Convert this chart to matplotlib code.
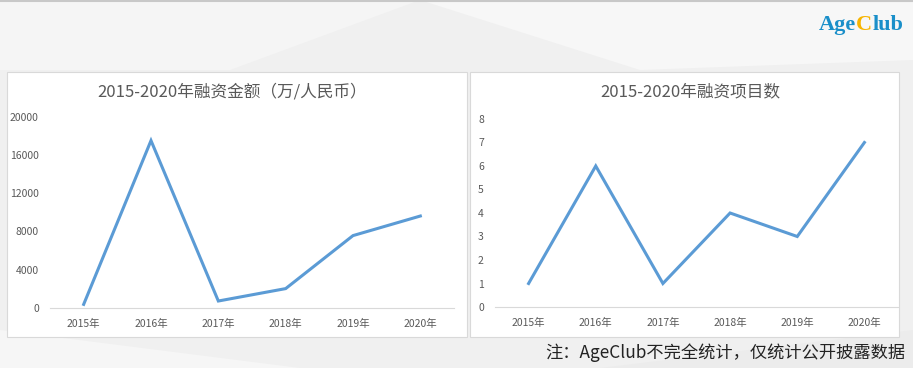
import matplotlib.pyplot as plt
from matplotlib.patches import Rectangle, Polygon

plt.rcParams['font.family'] = ['Noto Sans CJK SC', 'DejaVu Sans']

years = ["2015年", "2016年", "2017年", "2018年", "2019年", "2020年"]
amount = [350, 17500, 700, 2000, 7550, 9600]      # 万人民币
projects = [1, 6, 1, 4, 3, 7]
amount_ticks = [0, 4000, 8000, 12000, 16000, 20000]
project_ticks = list(range(0, 9))

W, H = 913, 368
LINE = "#5b9bd5"
TXT = "#595959"

fig = plt.figure(figsize=(W / 100, H / 100), dpi=100)
fig.patch.set_facecolor("#f0f0f0")

# faint background shapes (pixel coords -> figure fraction)
def px(pts):
    return [(x / W, 1 - y / H) for x, y in pts]

for pts, c in [
    ([(0, 0), (420, 0), (230, 70), (0, 70)], "#f5f5f5"),
    ([(420, 0), (913, 0), (913, 60), (640, 70)], "#f7f7f7"),
    ([(0, 330), (300, 368), (0, 368)], "#f6f6f6"),
    ([(600, 368), (913, 330), (913, 368)], "#ececec"),
]:
    fig.patches.append(Polygon(px(pts), closed=True, transform=fig.transFigure,
                               facecolor=c, edgecolor="none", zorder=0))
fig.add_artist(plt.Line2D([0, 1], [1 - 1 / H, 1 - 1 / H], transform=fig.transFigure,
                          color="#c8c8c8", lw=1.5))

# white panels
for x0, x1 in [(7, 467), (470, 899)]:
    fig.patches.append(Rectangle((x0 / W, 1 - 337 / H), (x1 - x0) / W, (337 - 72) / H,
                                 transform=fig.transFigure, facecolor="white",
                                 edgecolor="#d9d9d9", lw=0.8, zorder=1))


def make_axes(x0, x1, y_top, y_zero, vals, ticks, title, title_x):
    ax = fig.add_axes([x0 / W, 1 - y_zero / H, (x1 - x0) / W, (y_zero - y_top) / H])
    ax.set_zorder(3)
    ax.set_facecolor("none")
    ax.plot(range(len(years)), vals, color=LINE, lw=2.2, solid_joinstyle="miter")
    ax.set_xlim(-0.5, len(years) - 0.5)
    ax.set_ylim(ticks[0], ticks[-1])
    ax.set_xticks(range(len(years)))
    ax.set_xticklabels(years, fontsize=7.5, color=TXT)
    ax.set_yticks(ticks)
    ax.set_yticklabels([str(t) for t in ticks], fontsize=7.5, color=TXT)
    for s in ["top", "right", "left"]:
        ax.spines[s].set_visible(False)
    ax.spines["bottom"].set_color("#d9d9d9")
    ax.tick_params(length=0, pad=8)
    ax.tick_params(axis="y", pad=8)
    fig.text(title_x / W, 1 - 92 / H, title, ha="center", va="center",
             fontsize=12, color=TXT, zorder=4)
    return ax


make_axes(50, 454, 116.7, 307.7, amount, amount_ticks,
          "2015-2020年融资金额（万/人民币）", 232)
make_axes(495, 898, 119, 307, projects, project_ticks,
          "2015-2020年融资项目数", 690)

# logo
logo_y = 1 - 25 / H
t1 = fig.text(819 / W, logo_y, "Age", fontsize=16, fontweight="bold", color="#1a8fc9",
              family="Liberation Serif", va="center", ha="left")
fig.canvas.draw()
r = fig.canvas.get_renderer()
bb = t1.get_window_extent(r)
t2 = fig.text(bb.x1 / W, logo_y, "C", fontsize=16, fontweight="bold", color="#f7b500",
              family="Liberation Serif", va="center", ha="left")
bb2 = t2.get_window_extent(r)
fig.text(bb2.x1 / W, logo_y, "lub", fontsize=16, fontweight="bold", color="#1a8fc9",
         family="Liberation Serif", va="center", ha="left")

fig.text(905 / W, 1 - 353 / H, "注：AgeClub不完全统计，仅统计公开披露数据",
         ha="right", va="center", fontsize=12.4, color="#222222")

fig.savefig("out.png", dpi=100, facecolor=fig.get_facecolor())
